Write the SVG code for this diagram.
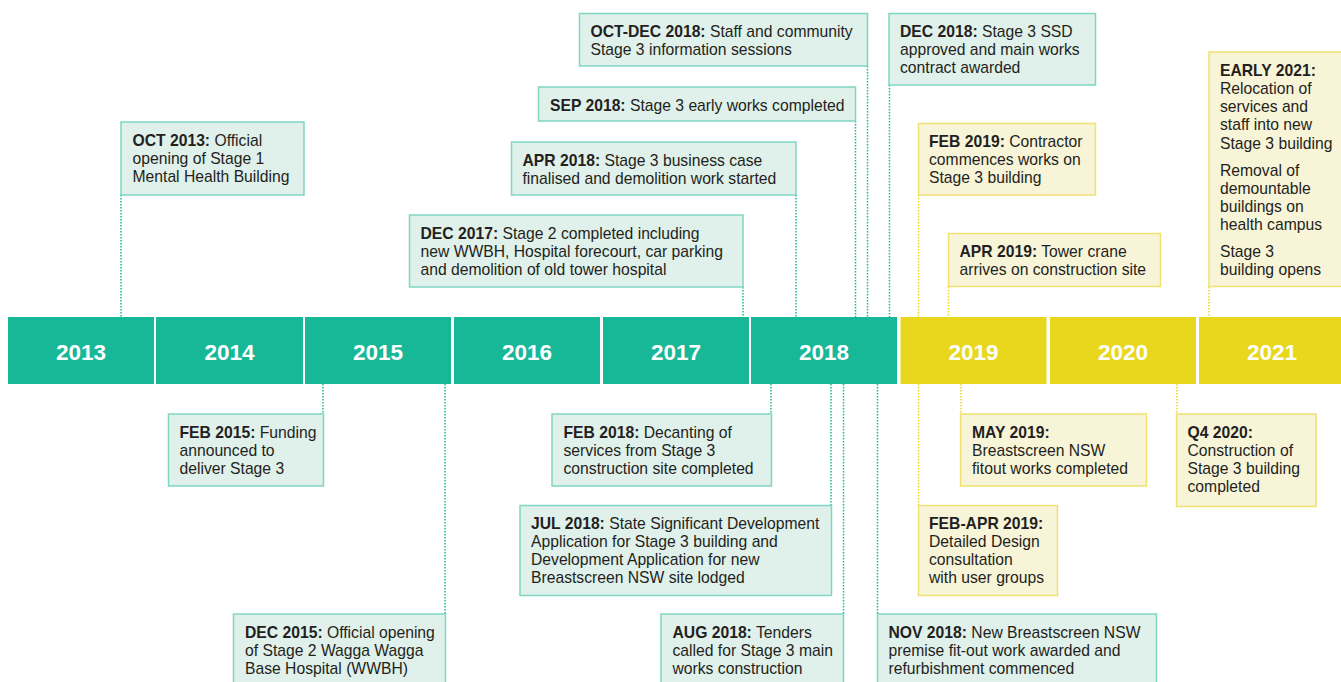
<svg xmlns="http://www.w3.org/2000/svg" width="1341" height="682" viewBox="0 0 1341 682">
<style>
.bg{fill:#ffffff}
.yt{fill:#17b897}
.yy{fill:#e8d71c}
.yl{font-family:"Liberation Sans",Arial,sans-serif;font-weight:bold;font-size:22.5px;fill:#ffffff;text-anchor:middle}
.bt{fill:#e0f0ea;stroke:#7fd6c2;stroke-width:1.5}
.by{fill:#f8f4d8;stroke:#efe172;stroke-width:1.5}
.tx{font-family:"Liberation Sans",Arial,sans-serif;font-size:15.7px;fill:#231f20}
.b{font-weight:bold}
.ct{stroke:#17b897;stroke-width:1.5;stroke-dasharray:1.5 1.5;fill:none}
.cy{stroke:#e8d71c;stroke-width:1.5;stroke-dasharray:1.5 1.5;fill:none}
</style>
<rect class="bg" x="0" y="0" width="1341" height="682"/>
<g id="connectors">
<line class="ct" x1="121" y1="195" x2="121" y2="317"/>
<line class="ct" x1="743" y1="287" x2="743" y2="317"/>
<line class="ct" x1="796" y1="195" x2="796" y2="317"/>
<line class="ct" x1="855.5" y1="121" x2="855.5" y2="317"/>
<line class="ct" x1="867.5" y1="66" x2="867.5" y2="317"/>
<line class="ct" x1="889.5" y1="85" x2="889.5" y2="317"/>
<line class="cy" x1="918.5" y1="195" x2="918.5" y2="317"/>
<line class="cy" x1="948.5" y1="287" x2="948.5" y2="317"/>
<line class="cy" x1="1209" y1="287" x2="1209" y2="317"/>
<line class="ct" x1="323" y1="384" x2="323" y2="414"/>
<line class="ct" x1="445" y1="384" x2="445" y2="614"/>
<line class="ct" x1="771" y1="384" x2="771" y2="414"/>
<line class="ct" x1="831" y1="384" x2="831" y2="505"/>
<line class="ct" x1="843.5" y1="384" x2="843.5" y2="614"/>
<line class="ct" x1="877.5" y1="384" x2="877.5" y2="614"/>
<line class="cy" x1="918.5" y1="384" x2="918.5" y2="505"/>
<line class="cy" x1="961" y1="384" x2="961" y2="414"/>
<line class="cy" x1="1177" y1="384" x2="1177" y2="414"/>
</g>
<g id="years">
<g id="y2013"><rect class="yt" x="8" y="317" width="146" height="67"/><text class="yl" x="81" y="360">2013</text></g>
<g id="y2014"><rect class="yt" x="156" y="317" width="147" height="67"/><text class="yl" x="229.5" y="360">2014</text></g>
<g id="y2015"><rect class="yt" x="305" y="317" width="146" height="67"/><text class="yl" x="378" y="360">2015</text></g>
<g id="y2016"><rect class="yt" x="454" y="317" width="146" height="67"/><text class="yl" x="527" y="360">2016</text></g>
<g id="y2017"><rect class="yt" x="603" y="317" width="146" height="67"/><text class="yl" x="676" y="360">2017</text></g>
<g id="y2018"><rect class="yt" x="751" y="317" width="146" height="67"/><text class="yl" x="824" y="360">2018</text></g>
<g id="y2019"><rect class="yy" x="900.5" y="317" width="146" height="67"/><text class="yl" x="973.5" y="360">2019</text></g>
<g id="y2020"><rect class="yy" x="1050" y="317" width="146" height="67"/><text class="yl" x="1123" y="360">2020</text></g>
<g id="y2021"><rect class="yy" x="1199" y="317" width="142" height="67"/><text class="yl" x="1272" y="360">2021</text></g>
</g>
<g id="oct2013"><rect class="bt" x="121" y="122" width="183" height="73"/>
<text class="tx" x="132.5"><tspan x="132.5" y="146"><tspan class="b">OCT 2013:</tspan> Official</tspan><tspan x="132.5" y="164">opening of Stage 1</tspan><tspan x="132.5" y="182">Mental Health Building</tspan></text></g>
<g id="dec2017"><rect class="bt" x="409.5" y="215" width="333.5" height="72"/>
<text class="tx"><tspan x="420.5" y="239"><tspan class="b">DEC 2017:</tspan> Stage 2 completed including</tspan><tspan x="420.5" y="257">new WWBH, Hospital forecourt, car parking</tspan><tspan x="420.5" y="275">and demolition of old tower hospital</tspan></text></g>
<g id="apr2018"><rect class="bt" x="511.5" y="142" width="284.5" height="53"/>
<text class="tx"><tspan x="522.5" y="166"><tspan class="b">APR 2018:</tspan> Stage 3 business case</tspan><tspan x="522.5" y="184">finalised and demolition work started</tspan></text></g>
<g id="sep2018"><rect class="bt" x="538.5" y="87" width="317" height="34"/>
<text class="tx"><tspan x="550" y="111"><tspan class="b">SEP 2018:</tspan> Stage 3 early works completed</tspan></text></g>
<g id="octdec2018"><rect class="bt" x="579.5" y="13.5" width="288" height="52.5"/>
<text class="tx"><tspan x="590.5" y="37"><tspan class="b">OCT-DEC 2018:</tspan> Staff and community</tspan><tspan x="590.5" y="55">Stage 3 information sessions</tspan></text></g>
<g id="dec2018"><rect class="bt" x="889" y="13.5" width="206.5" height="71.5"/>
<text class="tx"><tspan x="900" y="37"><tspan class="b">DEC 2018:</tspan> Stage 3 SSD</tspan><tspan x="900" y="55">approved and main works</tspan><tspan x="900" y="73">contract awarded</tspan></text></g>
<g id="feb2019"><rect class="by" x="918.5" y="123.5" width="177" height="71.5"/>
<text class="tx"><tspan x="929" y="147"><tspan class="b">FEB 2019:</tspan> Contractor</tspan><tspan x="929" y="165">commences works on</tspan><tspan x="929" y="183">Stage 3 building</tspan></text></g>
<g id="apr2019"><rect class="by" x="948.5" y="233.5" width="212" height="53"/>
<text class="tx"><tspan x="959.5" y="257"><tspan class="b">APR 2019:</tspan> Tower crane</tspan><tspan x="959.5" y="275">arrives on construction site</tspan></text></g>
<g id="early2021"><rect class="by" x="1209" y="52" width="140" height="234.5"/>
<text class="tx"><tspan class="b" x="1220" y="76">EARLY 2021:</tspan><tspan x="1220" y="94">Relocation of</tspan><tspan x="1220" y="112">services and</tspan><tspan x="1220" y="130">staff into new</tspan><tspan x="1220" y="148.5">Stage 3 building</tspan><tspan x="1220" y="176">Removal of</tspan><tspan x="1220" y="194">demountable</tspan><tspan x="1220" y="212">buildings on</tspan><tspan x="1220" y="230">health campus</tspan><tspan x="1220" y="257">Stage 3</tspan><tspan x="1220" y="275">building opens</tspan></text></g>
<g id="feb2015"><rect class="bt" x="168.5" y="414" width="155" height="72"/>
<text class="tx"><tspan x="179.5" y="438"><tspan class="b">FEB 2015:</tspan> Funding</tspan><tspan x="179.5" y="456">announced to</tspan><tspan x="179.5" y="474">deliver Stage 3</tspan></text></g>
<g id="dec2015"><rect class="bt" x="233.5" y="614" width="212" height="80"/>
<text class="tx"><tspan x="245" y="638"><tspan class="b">DEC 2015:</tspan> Official opening</tspan><tspan x="245" y="656">of Stage 2 Wagga Wagga</tspan><tspan x="245" y="674">Base Hospital (WWBH)</tspan></text></g>
<g id="feb2018"><rect class="bt" x="552" y="414" width="219.5" height="72"/>
<text class="tx"><tspan x="563.5" y="438"><tspan class="b">FEB 2018:</tspan> Decanting of</tspan><tspan x="563.5" y="456">services from Stage 3</tspan><tspan x="563.5" y="474">construction site completed</tspan></text></g>
<g id="jul2018"><rect class="bt" x="520" y="505.5" width="311.5" height="90"/>
<text class="tx"><tspan x="531" y="529"><tspan class="b">JUL 2018:</tspan> State Significant Development</tspan><tspan x="531" y="547">Application for Stage 3 building and</tspan><tspan x="531" y="565">Development Application for new</tspan><tspan x="531" y="583">Breastscreen NSW site lodged</tspan></text></g>
<g id="aug2018"><rect class="bt" x="661" y="614" width="182.5" height="80"/>
<text class="tx"><tspan x="672.5" y="638"><tspan class="b">AUG 2018:</tspan> Tenders</tspan><tspan x="672.5" y="656">called for Stage 3 main</tspan><tspan x="672.5" y="674">works construction</tspan></text></g>
<g id="nov2018"><rect class="bt" x="877.5" y="614" width="279" height="80"/>
<text class="tx"><tspan x="888.5" y="638"><tspan class="b">NOV 2018:</tspan> New Breastscreen NSW</tspan><tspan x="888.5" y="656">premise fit-out work awarded and</tspan><tspan x="888.5" y="674">refurbishment commenced</tspan></text></g>
<g id="may2019"><rect class="by" x="960.5" y="414" width="186" height="72"/>
<text class="tx"><tspan class="b" x="972" y="438">MAY 2019:</tspan><tspan x="972" y="456">Breastscreen NSW</tspan><tspan x="972" y="474">fitout works completed</tspan></text></g>
<g id="febapr2019"><rect class="by" x="918.5" y="505.5" width="139" height="90"/>
<text class="tx"><tspan class="b" x="929" y="529">FEB-APR 2019:</tspan><tspan x="929" y="547">Detailed Design</tspan><tspan x="929" y="565">consultation</tspan><tspan x="929" y="583">with user groups</tspan></text></g>
<g id="q42020"><rect class="by" x="1176.5" y="414" width="139.5" height="92.5"/>
<text class="tx"><tspan class="b" x="1187.5" y="438">Q4 2020:</tspan><tspan x="1187.5" y="456">Construction of</tspan><tspan x="1187.5" y="474">Stage 3 building</tspan><tspan x="1187.5" y="492">completed</tspan></text></g>
</svg>
